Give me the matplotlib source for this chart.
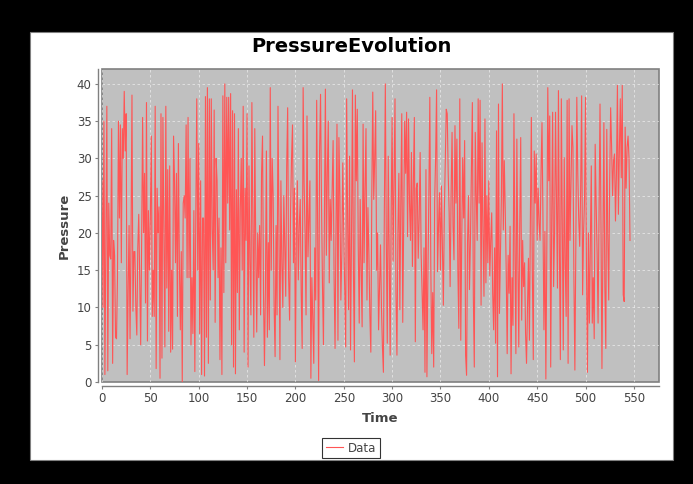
import numpy as np
import matplotlib
matplotlib.use('Agg')
import matplotlib.pyplot as plt
from matplotlib.patches import Rectangle

# Pressure readings, one per time step
pressure = [
    27, 10, 35, 1, 20, 37, 1.5, 24, 17, 16.5, 34, 2.5, 19, 17, 6, 5.8, 14, 35, 22, 34.5,
    16, 34, 30, 39, 31, 36, 1, 12, 21, 5.8, 19, 38.5, 9.5, 17.5, 17.5, 10, 6.3, 18, 22.5, 14,
    5, 19, 35.5, 20, 28, 10.6, 37.5, 5.5, 23, 15, 22, 33, 8.8, 15, 8.8, 37, 1.8, 26, 20, 23.5,
    0.5, 36, 3.2, 35.5, 20, 4.7, 37, 12.6, 28.5, 6.8, 29, 4, 15, 4.4, 33, 27, 16, 28, 8.8, 32,
    16, 7, 17.5, 0, 24, 25, 22, 34.5, 14, 35.5, 14, 30, 5, 14, 6.5, 23, 1.4, 22.5, 38, 15,
    32, 6.5, 27, 1, 22, 22, 0.8, 38.3, 6, 39.5, 2.5, 38, 11, 38, 20.5, 15, 36.5,
    8, 30, 27, 14, 22, 3, 18, 1, 38.4, 12, 40, 16, 38.2, 24, 38.2, 20.4, 38.7, 5, 36.4, 2,
    36, 1.1, 25.8, 12, 34, 7, 23, 30, 15, 37, 4, 26, 19, 36, 2, 29, 16, 9, 37.5, 21, 6,
    34, 18, 6.7, 20, 14, 21, 9, 28, 33, 12, 2.2, 12.6, 31, 6, 18.7, 7, 39.5, 15, 30, 25,
    10, 3.4, 21, 9, 37, 19, 3, 27, 16, 10, 25, 18, 11.5, 29, 36.8, 14, 8.3, 23, 30, 34.5,
    16, 26, 2.7, 20, 27, 13.7, 21, 24.5, 12, 4.5, 39.5, 26.7, 20, 9, 35.7, 16.8, 22, 27, 0.5, 14,
    8, 2.5, 18, 11, 37.8, 21, 0.2, 31, 38.6, 24, 13, 5, 22, 39.3,
    17, 28, 35, 13.3, 24.5, 19, 26, 32.4, 14, 4.5, 21, 34.6, 5.6, 32.8, 25, 11, 17.3, 29.4, 20, 12,
    4.7, 38, 22, 9.7, 30.3, 4.3, 19, 39.2, 15, 2.7, 38.5, 27, 36.6, 18, 7.9, 24.5, 15, 7.4, 34.6, 16,
    26, 34, 11, 23.4, 17, 9, 4, 25, 38.9, 24.5, 30, 36.4, 15, 20, 7, 13, 18.4, 10, 4.7, 1.3,
    23.4, 40, 19, 5.2, 30.3, 17, 3.6, 22, 35.5, 16.2, 27, 38, 12, 3.6, 20, 28, 9.7, 24, 36,
    8, 22, 35, 28, 36.2, 19.5, 35.3, 24, 19, 30.8, 15.5, 27, 35.5, 5.4, 26, 26.7, 16.6, 22, 30.8, 17.3,
    12, 7, 18, 1.3, 28.5, 0.7, 14, 25, 38.2, 15.7, 3.8, 12, 2, 24.3, 30, 39.2, 14.8, 21, 25.4, 15,
    26.3, 18, 10.3, 22.7, 30, 36.6, 36, 28, 22.7, 12.8, 25, 33.5, 21, 16.4, 34.4, 24, 32.6, 15, 7.2, 38,
    5.6, 19, 30.1, 22, 32.4, 3.6, 0.9, 18.7, 25, 12.4, 18.9, 28, 37.5, 11.5, 2, 33.5, 25, 19, 38,
    24, 37.8, 10.3, 32.1, 20, 11.5, 35.3, 13.3, 25, 16, 27, 14.2, 19, 22.7, 12, 7, 18, 5.2, 33.7, 0.7,
    37.3, 9.2, 17, 24.7, 40, 20.4, 29.7, 23, 15, 3.8, 17, 11.9, 20.9, 1.1, 14, 7.6, 36, 18.2, 3.8, 32.6,
    17.3, 4.7, 21, 32.8, 8.3, 19, 12.8, 16, 6.5, 2.5, 10, 16.6, 5.6, 22, 35.5, 15, 3, 31, 24, 30.6,
    19, 26, 21.3, 19, 28, 34.8, 22, 7, 20.2, 0.4, 18, 39.5, 27, 35.7, 2, 21, 36.2, 12.8,
    20, 36.2, 25, 12.6, 39.1, 18, 3, 38, 22, 4.3, 30.1, 16, 8.8, 37.8, 2.5, 38, 19, 27, 34.4, 31.5,
    14, 1.6, 18.4, 38.2, 28, 21.8, 18.2, 26, 38.4, 11.7, 20, 24.5, 38.2, 15, 1.3, 20, 7.9, 18, 29, 7.9,
    14, 5.8, 31.9, 24, 17.3, 7.9, 22, 37.3, 21.1, 1.8, 19, 34.8, 12.8, 4.5, 33.9, 20, 11, 27, 36.8, 31.5,
    25, 29.7, 30.6, 21.6, 28, 39.8, 22.5, 31, 38, 27.4, 39.8, 11.7, 10.8, 34.2, 26, 31.5, 33, 30, 19,
]
time = np.arange(len(pressure))

x_ticks = [0, 50, 100, 150, 200, 250, 300, 350, 400, 450, 500, 550]
y_ticks = [0, 5, 10, 15, 20, 25, 30, 35, 40]

W, H = 693, 484
fig = plt.figure(figsize=(W / 100, H / 100), dpi=100)
fig.patch.set_facecolor('black')

# white chart panel inside the black frame
fig.patches.append(Rectangle((30 / W, 24 / H), 643 / W, 428 / H,
                             transform=fig.transFigure, facecolor='white',
                             edgecolor='#808080', linewidth=0.8, zorder=-1))

ax = fig.add_axes([102 / W, (H - 382) / H, 557 / W, 313 / H])
ax.set_zorder(2)
ax.set_facecolor('#c0c0c0')
ax.patch.set_edgecolor('#808080')
ax.patch.set_linewidth(1.2)

ax.plot(time, pressure, color='#ff5555', linewidth=0.8, label='Data')

ax.set_xlim(0, 576)
ax.set_ylim(0, 42)
ax.set_xticks(x_ticks)
ax.set_yticks(y_ticks)
ax.grid(True, color='white', linestyle=(0, (3, 3)), linewidth=0.6, alpha=0.6)
ax.set_axisbelow(True)

for side in ['top', 'right']:
    ax.spines[side].set_visible(False)
for side in ['left', 'bottom']:
    ax.spines[side].set_position(('outward', 3))
    ax.spines[side].set_color('#808080')
    ax.spines[side].set_linewidth(1.0)

ax.tick_params(colors='#808080', labelcolor='#444444', labelsize=8.5,
               length=2.5, width=0.8, pad=2)

fig.text(351 / W, 1 - 47 / H, 'PressureEvolution', ha='center', va='center',
         fontsize=14, fontweight='bold', color='black', zorder=3)
fig.text(380 / W, 1 - 418 / H, 'Time', ha='center', va='center',
         fontsize=9.5, fontweight='bold', color='#444444', zorder=3)
fig.text(64 / W, 1 - 226 / H, 'Pressure', ha='center', va='center',
         rotation=90, fontsize=9.5, fontweight='bold', color='#444444', zorder=3)

leg = fig.legend(loc='center', bbox_to_anchor=(351 / W, 1 - 448 / H),
                 fontsize=8.5, frameon=True, fancybox=False, handlelength=1.5,
                 handletextpad=0.4, borderpad=0.3, borderaxespad=0)
leg.set_zorder(3)
leg.get_frame().set_edgecolor('black')
leg.get_frame().set_linewidth(0.8)
for t in leg.get_texts():
    t.set_color('#444444')

fig.savefig('out.png', dpi=100, facecolor=fig.get_facecolor())
